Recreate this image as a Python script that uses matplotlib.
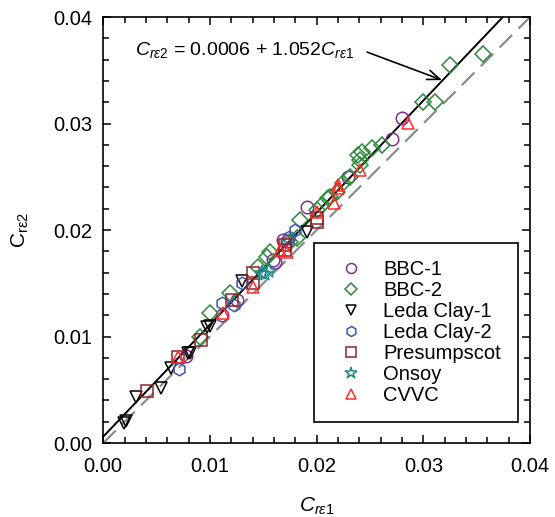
import numpy as np
import matplotlib
matplotlib.use("Agg")
import matplotlib.pyplot as plt
from matplotlib.ticker import MultipleLocator, FormatStrFormatter

plt.rcParams['font.family'] = ['Liberation Sans', 'DejaVu Sans']
plt.rcParams['mathtext.fontset'] = 'custom'
plt.rcParams['mathtext.rm'] = 'Liberation Sans'
plt.rcParams['mathtext.it'] = 'Liberation Sans:italic'

# data (C_re1, C_re2)
bbc1_x = [0.00775, 0.01112, 0.01252, 0.01595, 0.01611, 0.01689, 0.01720, 0.01908, 0.02298, 0.02704, 0.02798]
bbc1_y = [0.00817, 0.01202, 0.01343, 0.01718, 0.01703, 0.01906, 0.01900, 0.02219, 0.02501, 0.02854, 0.03049]

bbc2_x = [0.00909, 0.01002, 0.01190, 0.01455, 0.01534, 0.01564, 0.01752, 0.01814, 0.01845, 0.02002,
          0.02049, 0.02111, 0.02127, 0.02189, 0.02251, 0.02314, 0.02392, 0.02407, 0.02407, 0.02423,
          0.02517, 0.02611, 0.03001, 0.03110, 0.03250, 0.03563]
bbc2_y = [0.01000, 0.01218, 0.01406, 0.01656, 0.01750, 0.01797, 0.01890, 0.01922, 0.02094, 0.02188,
          0.02235, 0.02297, 0.02313, 0.02360, 0.02439, 0.02501, 0.02704, 0.02657, 0.02610, 0.02735,
          0.02767, 0.02798, 0.03205, 0.03199, 0.03549, 0.03650]

leda1_x = [0.0019, 0.0021, 0.00306, 0.0054, 0.00634, 0.0079, 0.00809, 0.00971, 0.01002, 0.01299, 0.01914]
leda1_y = [0.0019, 0.0021, 0.00429, 0.00514, 0.00701, 0.00848, 0.00842, 0.01086, 0.01099, 0.01520, 0.01984]

leda2_x = [0.00712, 0.01112, 0.01230, 0.01299, 0.01745, 0.01799]
leda2_y = [0.00692, 0.01312, 0.01300, 0.01500, 0.01935, 0.02000]

presump_x = [0.00406, 0.00703, 0.00915, 0.01206, 0.01402, 0.01402, 0.01705, 0.01705, 0.02002, 0.02002]
presump_y = [0.00491, 0.00808, 0.00967, 0.01343, 0.01500, 0.01594, 0.01812, 0.01859, 0.02078, 0.02110]

onsoy_x = [0.01487, 0.01518, 0.01550]
onsoy_y = [0.01593, 0.01587, 0.01620]

cvvc_x = [0.00703, 0.01127, 0.01402, 0.01658, 0.01721, 0.02002, 0.02164, 0.02204, 0.02204, 0.02407, 0.02860]
cvvc_y = [0.00808, 0.01218, 0.01462, 0.01812, 0.01797, 0.02172, 0.02251, 0.02392, 0.02423, 0.02563, 0.03002]

fit_a, fit_b = 0.0006, 1.052

fig = plt.figure(figsize=(5.55, 5.17), dpi=100)
ax = fig.add_axes([0.186, 0.143, 0.769, 0.824])

# 1:1 line and fit line
ax.plot([0, 0.04], [0, 0.04], color='#8c8c8c', lw=1.6, dashes=(8, 4))
xf = np.array([0, (0.04 - fit_a) / fit_b])
ax.plot(xf, fit_a + fit_b * xf, color='black', lw=1.4)

ms = 9
mew = 1.1
series = [
    (bbc1_x, bbc1_y, 'o', '#7f2f8f', 'BBC-1'),
    (bbc2_x, bbc2_y, 'D', '#2a8a3a', 'BBC-2'),
    (leda1_x, leda1_y, 'v', 'black', 'Leda Clay-1'),
    (leda2_x, leda2_y, 'h', '#3a56b0', 'Leda Clay-2'),
    (presump_x, presump_y, 's', '#8b2424', 'Presumpscot'),
    (onsoy_x, onsoy_y, '*', '#1f8a86', 'Onsoy'),
    (cvvc_x, cvvc_y, '^', '#ff2a2a', 'CVVC'),
]
for x, y, m, c, lab in series:
    size = ms + 2 if m == '*' else (ms - 1 if m == 'D' else ms)
    ax.plot(x, y, ls='none', marker=m, ms=size, mfc='none', mec=c, mew=mew, label=lab)

ax.set_xlim(0, 0.04)
ax.set_ylim(0, 0.04)
ax.xaxis.set_major_locator(MultipleLocator(0.01))
ax.yaxis.set_major_locator(MultipleLocator(0.01))
ax.xaxis.set_minor_locator(MultipleLocator(0.002))
ax.yaxis.set_minor_locator(MultipleLocator(0.002))
ax.xaxis.set_major_formatter(FormatStrFormatter('%.2f'))
ax.yaxis.set_major_formatter(FormatStrFormatter('%.2f'))
ax.tick_params(which='both', direction='in', top=True, right=True, labelsize=14.5, width=1.1)
ax.tick_params(which='major', length=6)
ax.tick_params(which='minor', length=4)
ax.tick_params(axis='x', which='major', pad=10)
ax.tick_params(axis='y', which='major', pad=8)
for s in ax.spines.values():
    s.set_linewidth(1.2)

ax.set_xlabel(r'$\mathit{C_{r\varepsilon 1}}$', fontsize=15, labelpad=14)
ax.set_ylabel(r'$\mathregular{C_{r\varepsilon 2}}$', fontsize=15, labelpad=16)

ax.text(0.0030, 0.0369, r'$\mathit{C_{r\varepsilon 2}}$ = 0.0006 + 1.052$\mathit{C_{r\varepsilon 1}}$',
        fontsize=14, ha='left', va='center')
ax.annotate('', xy=(0.03176, 0.03408), xytext=(0.02473, 0.03671),
            arrowprops=dict(arrowstyle='->,head_length=0.9,head_width=0.35', color='black', lw=1.2,
                            shrinkA=0, shrinkB=0))

leg = ax.legend(loc='lower right', bbox_to_anchor=(0.972, 0.049), borderaxespad=0,
                fontsize=14.5, numpoints=1, fancybox=False, edgecolor='black', framealpha=1,
                labelspacing=0.1, handletextpad=0.6, borderpad=0.85, markerscale=0.8)
leg.get_frame().set_linewidth(1.2)

fig.savefig('out.png', dpi=100)
